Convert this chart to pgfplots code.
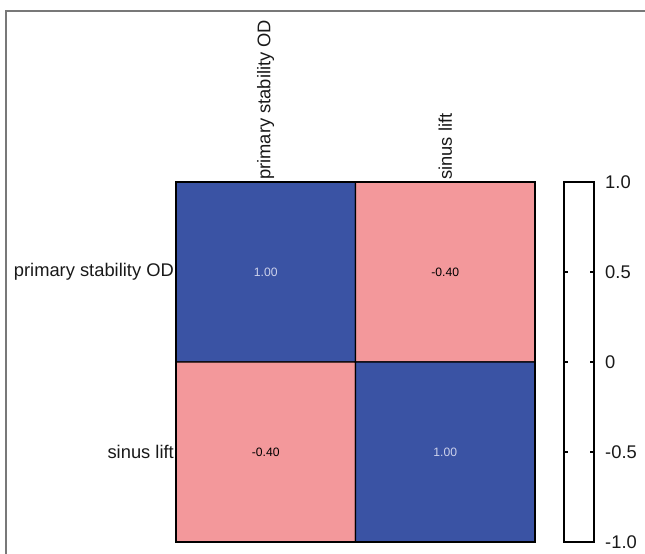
\documentclass[border=0pt]{standalone}
\usepackage{fontspec}
\setmainfont{Liberation Sans}
\usepackage{pgfplots}
\pgfplotsset{compat=1.18}
\definecolor{cblue}{RGB}{58,83,164}
\definecolor{cpink}{RGB}{243,152,155}
\definecolor{framegray}{RGB}{120,120,120}
\definecolor{lightlab}{RGB}{205,210,235}
\definecolor{labtext}{RGB}{25,25,25}
\begin{document}
\begin{tikzpicture}[x=1bp,y=1bp]
\useasboundingbox (0,0) rectangle (645,554);
\draw[framegray, line width=1.2bp] (6,0) -- (6,543) -- (645,543);
\begin{axis}[
  at={(176bp,12bp)}, anchor=south west,
  scale only axis, width=359bp, height=360bp,
  xmin=-0.5, xmax=1.5, ymin=-0.5, ymax=1.5, y dir=reverse,
  xtick={0,1}, ytick={0,1},
  xticklabels={primary stability OD, sinus lift},
  yticklabels={primary stability OD, sinus lift},
  xticklabel pos=top,
  major tick length=0pt,
  tick label style={font=\fontsize{18.4}{20}\selectfont, text=labtext},
  xticklabel style={rotate=90, anchor=west, inner sep=2bp},
  yticklabel style={anchor=east, inner sep=2bp},
  axis line style={line width=1.6bp},
  colormap={corr}{color(0)=(cpink) color(1)=(cpink) color(1.4)=(cblue) color(2)=(cblue)},
  point meta min=-1, point meta max=1,
  axis on top,
]
\addplot[matrix plot*, mesh/cols=2, point meta=explicit, draw=black, line width=1.2bp] table[meta=r] {
x y r
0 0 1
1 0 -0.4
0 1 -0.4
1 1 1
};
\addplot[draw=none, mark=none, point meta=explicit symbolic,
  nodes near coords={\pgfplotspointmeta}, nodes near coords align={center},
  every node near coord/.style={font=\fontsize{12.2}{14}\selectfont, text=lightlab}] table[meta=t] {
x y t
0 0 1.00
1 1 1.00
};
\addplot[draw=none, mark=none, point meta=explicit symbolic,
  nodes near coords={\pgfplotspointmeta}, nodes near coords align={center},
  every node near coord/.style={font=\fontsize{12.2}{14}\selectfont, text=black}] table[meta=t] {
x y t
1 0 -0.40
0 1 -0.40
};
\end{axis}
\begin{axis}[
  at={(564bp,12bp)}, anchor=south west,
  scale only axis, width=30bp, height=360bp,
  xmin=0, xmax=1, ymin=-1, ymax=1, xtick=\empty,
  ytick={-1,-0.5,0,0.5,1}, yticklabels={-1.0,-0.5,0,0.5,1.0},
  yticklabel pos=right, tick align=inside, major tick length=4bp,
  ytick style={line width=1.2bp, black},
  tick label style={font=\fontsize{18.4}{20}\selectfont, text=labtext},
  yticklabel style={anchor=west, inner sep=0pt, xshift=11bp},
  axis line style={line width=1.6bp},
]
\end{axis}
\end{tikzpicture}
\end{document}
